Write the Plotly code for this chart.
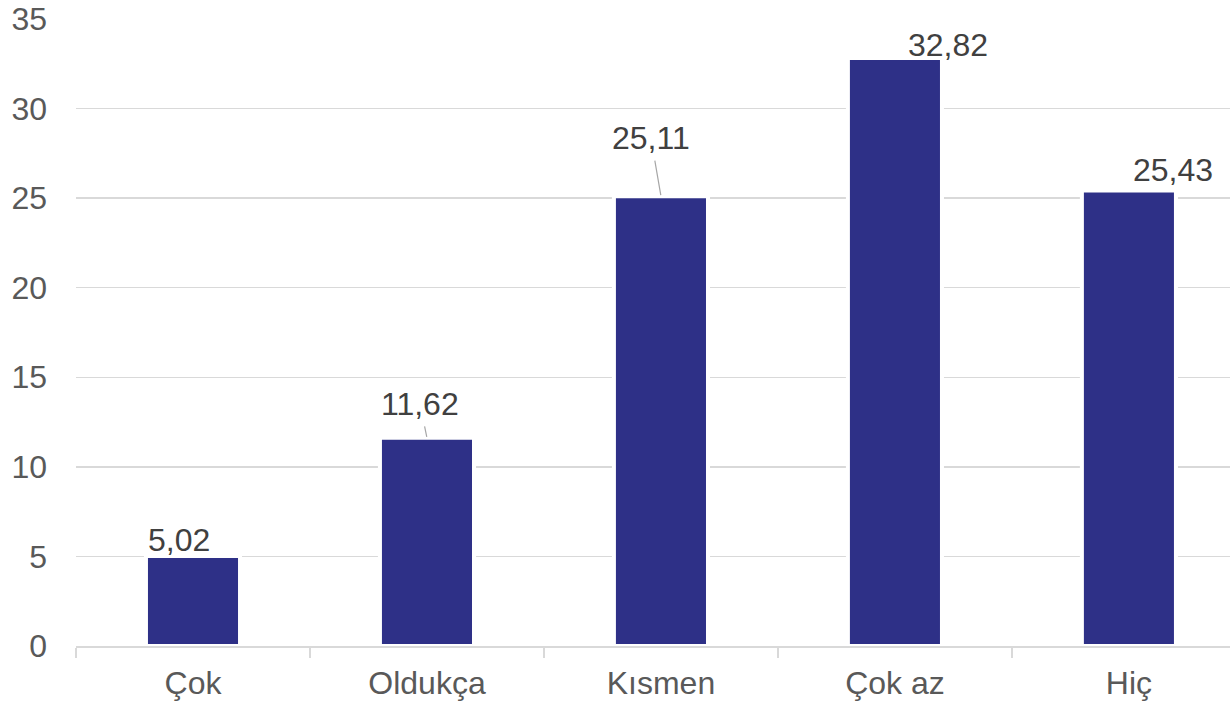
import plotly.graph_objects as go

categories = ["Çok", "Oldukça", "Kısmen", "Çok az", "Hiç"]
values = [5.02, 11.62, 25.11, 32.82, 25.43]
labels = ["5,02", "11,62", "25,11", "32,82", "25,43"]
y_ticks = [0, 5, 10, 15, 20, 25, 30, 35]

# label placement (pixel offsets from bar top); arrow=True draws a leader line
label_offsets = [
    dict(dx=-14, dy=-16, arrow=False),
    dict(dx=-7, dy=-34, arrow=True),
    dict(dx=-10, dy=-58, arrow=True),
    dict(dx=53, dy=-13, arrow=False),
    dict(dx=44, dy=-20, arrow=False),
]

FONT = "Liberation Sans, Arial, sans-serif"
FS = 32
BAR = "#2E3087"
GRID = "#D9D9D9"

fig = go.Figure()
fig.add_trace(go.Bar(
    x=categories, y=values,
    width=0.402,
    marker=dict(color=BAR, line=dict(color="white", width=4)),
    hoverinfo="skip",
))

for c, v, t, o in zip(categories, values, labels, label_offsets):
    if o["arrow"]:
        fig.add_annotation(x=c, y=v, xref="x", yref="y", text=t,
                           showarrow=True, arrowhead=0, arrowwidth=1.2,
                           arrowcolor="#A6A6A6", ax=o["dx"], ay=o["dy"],
                           startstandoff=3, standoff=1,
                           font=dict(family=FONT, size=FS, color="#404040"))
    else:
        fig.add_annotation(x=c, y=v, xref="x", yref="y", text=t,
                           showarrow=False, xshift=o["dx"], yshift=-o["dy"],
                           font=dict(family=FONT, size=FS, color="#404040"))

fig.update_layout(
    width=1230, height=705,
    margin=dict(l=76, r=0, t=18.5, b=58.5),
    paper_bgcolor="white", plot_bgcolor="white",
    showlegend=False,
    font=dict(family=FONT, size=FS, color="#595959"),
    xaxis=dict(
        range=[-0.5, 4.432],
        automargin=False,
        showgrid=False,
        showline=True, linecolor=GRID, linewidth=1.5,
        ticks="outside", tickson="boundaries", ticklen=10,
        tickcolor=GRID, tickwidth=1.5,
        ticklabelstandoff=8,
        tickfont=dict(family=FONT, size=FS, color="#595959"),
    ),
    yaxis=dict(
        range=[0, 35],
        automargin=False,
        tickvals=y_ticks,
        showgrid=True, gridcolor=GRID, gridwidth=1.5,
        zeroline=False, showline=False,
        ticks="", ticklabelstandoff=28,
        tickfont=dict(family=FONT, size=FS, color="#595959"),
    ),
)

fig.write_html(
    "out.html",
    config={"displayModeBar": False, "staticPlot": True},
    post_script="document.body.style.margin='0px';document.body.style.overflow='hidden';",
)
